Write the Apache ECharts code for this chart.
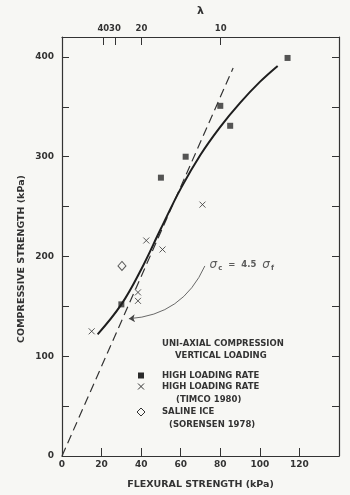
<!DOCTYPE html>
<html>
<head>
<meta charset="utf-8">
<script src="https://cdn.jsdelivr.net/npm/echarts@6/dist/echarts.min.js"></script>
<style>
html,body{margin:0;padding:0;background:#f7f7f4;}
#c{width:350px;height:495px;}
</style>
</head>
<body>
<div id="c"></div>
<script>
// ---- data ----
const highRate = [[30,152],[50,279],[62.5,300],[80,351],[85,331],[114,399]];
const timco = [[15,125],[38.4,164],[38.4,155.5],[42.6,216],[50.8,207],[71,252]];
const salineIce = [[30.3,190.5]];
const fitCurve = [[18,122],[30,152],[40,187],[50,228],[60,268],[70,302],[80,330],[90,354],[100,375],[109,391]];
const ratioLine = [[0,0],[86.5,389]];
const lambdaLabels = [40,30,20,10];
const lambdaPos = [20.9,26.8,40.2,80.2];
const xTicks = [0,20,40,60,80,100,120];
const yLabels = [0,100,200,300,400];
const arrowCoords = [[72.2,190.5],[33.8,137.6]];
const notePos = [[74.6,191.5]];

const ink = '#2a2a2a';
const FONT = '"DejaVu Sans", sans-serif';
const chart = echarts.init(document.getElementById('c'));

const axisLine = {show:true, onZero:false, lineStyle:{color:'#333', width:1.2}};
const lblStyle = {color:'#333', fontFamily:FONT, fontWeight:'bold', fontSize:9};

const option = {
  backgroundColor:'#f7f7f4',
  animation:false,
  grid:{left:62, right:11, top:37, bottom:37},
  xAxis:[
    {type:'value', min:0, max:140, interval:20, position:'bottom',
     axisLine:axisLine,
     axisTick:{inside:true, length:8, lineStyle:{color:'#333'}},
     axisLabel:Object.assign({margin:4, formatter:v => xTicks.indexOf(v) >= 0 ? String(v) : ''}, lblStyle),
     splitLine:{show:false},
     name:'FLEXURAL STRENGTH (kPa)', nameLocation:'middle', nameGap:24,
     nameTextStyle:{color:'#333', fontFamily:FONT, fontWeight:'bold', fontSize:9.5}},
    {type:'value', min:0, max:140, position:'top',
     axisLine:axisLine,
     axisTick:{inside:true, length:8, customValues:lambdaPos, lineStyle:{color:'#333'}},
     axisLabel:Object.assign({}, lblStyle, {margin:4, fontSize:8.5, hideOverlap:false, customValues:lambdaPos,
        formatter:v => { const i = lambdaPos.indexOf(v); return i >= 0 ? String(lambdaLabels[i]) : ''; }}),
     splitLine:{show:false},
     name:'λ', nameLocation:'middle', nameGap:20,
     nameTextStyle:{color:'#333', fontFamily:FONT, fontWeight:'bold', fontSize:11}}
  ],
  yAxis:[
    {type:'value', min:0, max:420, interval:50, position:'left',
     axisLine:axisLine,
     axisTick:{inside:true, length:7, lineStyle:{color:'#333'}},
     axisLabel:Object.assign({margin:8, formatter:v => yLabels.indexOf(v) >= 0 ? String(v) : ''}, lblStyle),
     splitLine:{show:false}},
    {type:'value', min:0, max:420, interval:50, position:'right',
     axisLine:axisLine,
     axisTick:{inside:true, length:7, lineStyle:{color:'#333'}},
     axisLabel:{show:false},
     splitLine:{show:false}}
  ],
  series:[
    {type:'line', data:ratioLine, symbol:'none', silent:true,
     lineStyle:{color:'#333', width:1.2, type:[9,5]}},
    {type:'line', data:fitCurve, symbol:'none', smooth:0.4, silent:true,
     lineStyle:{color:'#1e1e1e', width:2}},
    {type:'scatter', data:highRate, symbol:'rect', symbolSize:6,
     itemStyle:{color:ink}},
    {type:'scatter', data:timco, symbol:'path://M0,0L10,10M10,0L0,10', symbolSize:6,
     itemStyle:{color:'transparent', borderColor:'#333', borderWidth:1}},
    {type:'scatter', data:salineIce, symbol:'diamond', symbolSize:[8,9],
     itemStyle:{color:'transparent', borderColor:'#333', borderWidth:1}},
    {type:'lines', coordinateSystem:'cartesian2d', silent:true,
     data:[{coords:arrowCoords}], symbol:['none','arrow'], symbolSize:6,
     lineStyle:{color:'#444', width:0.8, curveness:0.3, opacity:1}},
    {type:'scatter', data:notePos, symbolSize:0, silent:true,
     label:{show:true, position:'right', distance:0,
       formatter:'{s|σ}{c|c}{t|  =  4.5  }{s|σ}{c|f}',
       rich:{
         s:{fontFamily:FONT, fontStyle:'italic', fontSize:12, color:'#333'},
         c:{fontFamily:FONT, fontWeight:'bold', fontSize:7, color:'#333', padding:[7,0,0,1]},
         t:{fontFamily:FONT, fontWeight:'bold', fontSize:8.5, color:'#333'}
       }}}
  ],
  graphic:[
    {type:'text', x:22, y:259, rotation:Math.PI/2,
     style:{text:'COMPRESSIVE STRENGTH (kPa)', align:'center', verticalAlign:'middle',
       font:'bold 9.5px "DejaVu Sans"', fill:'#333'}},
    {type:'text', x:162, y:344, style:{text:'UNI-AXIAL COMPRESSION', verticalAlign:'middle', font:'bold 8.5px "DejaVu Sans"', fill:'#333'}},
    {type:'text', x:175, y:356, style:{text:'VERTICAL LOADING', verticalAlign:'middle', font:'bold 8.5px "DejaVu Sans"', fill:'#333'}},
    {type:'text', x:162, y:375.5, style:{text:'HIGH LOADING RATE', verticalAlign:'middle', font:'bold 8.5px "DejaVu Sans"', fill:'#333'}},
    {type:'text', x:162, y:387, style:{text:'HIGH LOADING RATE', verticalAlign:'middle', font:'bold 8.5px "DejaVu Sans"', fill:'#333'}},
    {type:'text', x:176, y:400, style:{text:'(TIMCO 1980)', verticalAlign:'middle', font:'bold 8.5px "DejaVu Sans"', fill:'#333'}},
    {type:'text', x:162, y:412, style:{text:'SALINE ICE', verticalAlign:'middle', font:'bold 8.5px "DejaVu Sans"', fill:'#333'}},
    {type:'text', x:169, y:425, style:{text:'(SORENSEN 1978)', verticalAlign:'middle', font:'bold 8.5px "DejaVu Sans"', fill:'#333'}},
    {type:'rect', shape:{x:138, y:372.5, width:6, height:6}, style:{fill:ink}},
    {type:'line', shape:{x1:138, y1:383.5, x2:144, y2:389.5}, style:{stroke:'#333', lineWidth:1}},
    {type:'line', shape:{x1:144, y1:383.5, x2:138, y2:389.5}, style:{stroke:'#333', lineWidth:1}},
    {type:'polygon', shape:{points:[[141,408],[145,412],[141,416],[137,412]]}, style:{stroke:'#333', lineWidth:1, fill:'transparent'}}
  ]
};
chart.setOption(option);
</script>
</body>
</html>
